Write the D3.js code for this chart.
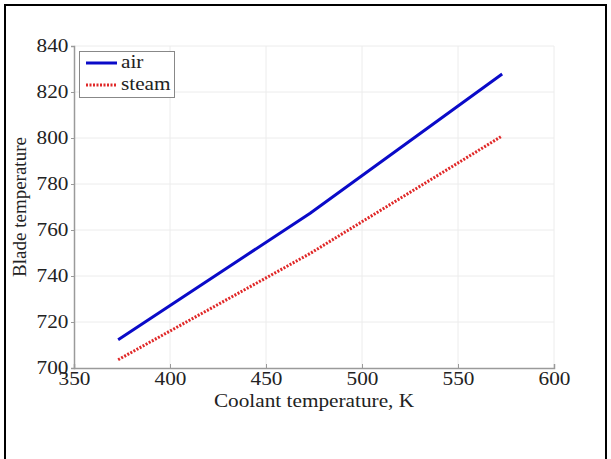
<!DOCTYPE html>
<html><head><meta charset="utf-8">
<script src="https://cdn.jsdelivr.net/npm/d3@7"></script>
<style>body{margin:0;background:#fff}svg{display:block}</style>
</head><body>
<script>
const coolantTemps = [373, 473, 573];
const airValues = [712.3, 767.3, 827.8];
const steamValues = [703.6, 749.8, 800.9];
const seriesNames = ["air", "steam"];
const xTicks = [350, 400, 450, 500, 550, 600];
const yTicks = [700, 720, 740, 760, 780, 800, 820, 840];

const W = 611, H = 459;
const m = {left: 74, right: 57, top: 46, bottom: 91};
const SX = 1.12; // horizontal stretch of text seen in the reference
const svg = d3.select("body").append("svg").attr("width", W).attr("height", H);
svg.append("rect").attr("width", W).attr("height", H).attr("fill", "#fff");
// outer frame
svg.append("path").attr("d", `M5,${H} L5,5 L606,5 L606,${H}`).attr("fill", "none")
  .attr("stroke", "#000").attr("stroke-width", 2);

const x = d3.scaleLinear().domain([350, 600]).range([m.left, W - m.right]);
const y = d3.scaleLinear().domain([700, 840]).range([H - m.bottom, m.top]);
const font = "'Liberation Serif','Times New Roman',serif";

// grid
const g = svg.append("g");
g.selectAll(".gx").data(xTicks.slice(1)).enter().append("line")
  .attr("x1", d => x(d)).attr("x2", d => x(d)).attr("y1", y(700)).attr("y2", y(840))
  .attr("stroke", "#ececec").attr("stroke-width", 1);
g.selectAll(".gy").data(yTicks.slice(1)).enter().append("line")
  .attr("y1", d => y(d)).attr("y2", d => y(d)).attr("x1", x(350)).attr("x2", x(600))
  .attr("stroke", "#ececec").attr("stroke-width", 1);

// axes
const xAxis = svg.append("g").attr("transform", `translate(0,${y(700)})`)
  .call(d3.axisBottom(x).tickValues(xTicks).tickSize(-4).tickPadding(8).tickFormat(d3.format("d")));
const yAxis = svg.append("g").attr("transform", `translate(${x(350)},0)`)
  .call(d3.axisLeft(y).tickValues(yTicks).tickSize(3).tickPadding(2).tickFormat(d3.format("d")));
[xAxis, yAxis].forEach(a => {
  a.select(".domain").attr("stroke", "#9a9a9a").attr("stroke-width", 1.5);
  a.selectAll(".tick line").attr("stroke", "#9a9a9a");
  a.selectAll("text").attr("fill", "#222").style("font-family", font).style("font-size", "19px")
    .attr("transform", `scale(${SX},1)`);
});
xAxis.selectAll("text").attr("dy", "0.5em");
yAxis.selectAll("text").attr("dy", "0.3em");

// labels
svg.append("text").attr("transform", `translate(${(x(350) + x(600)) / 2},407) scale(${SX},1)`)
  .attr("text-anchor", "middle")
  .attr("fill", "#222").style("font-family", font).style("font-size", "19px").text("Coolant temperature, K");
svg.append("text").attr("transform", `translate(26,${(y(700) + y(840)) / 2}) rotate(-90)`)
  .attr("text-anchor", "middle").attr("fill", "#222").style("font-family", font).style("font-size", "19px")
  .text("Blade temperature");

// lines
const line = d3.line().x(d => x(d[0])).y(d => y(d[1]));
const airData = coolantTemps.map((t, i) => [t, airValues[i]]);
const steamData = coolantTemps.map((t, i) => [t, steamValues[i]]);
svg.append("path").datum(airData).attr("d", line).attr("fill", "none")
  .attr("stroke", "#0a0ac8").attr("stroke-width", 3);
svg.append("path").datum(steamData).attr("d", line).attr("fill", "none")
  .attr("stroke", "#e02828").attr("stroke-width", 3).attr("stroke-dasharray", "2,1.5");

// legend
const lg = svg.append("g");
lg.append("rect").attr("x", 79.5).attr("y", 51.5).attr("width", 95).attr("height", 46)
  .attr("fill", "#fff").attr("stroke", "#888").attr("stroke-width", 1);
const styles = [{c: "#0a0ac8", d: null}, {c: "#e02828", d: "2,1.5"}];
seriesNames.forEach((n, i) => {
  const yy = 63 + i * 22;
  lg.append("line").attr("x1", 86).attr("x2", 117).attr("y1", yy).attr("y2", yy)
    .attr("stroke", styles[i].c).attr("stroke-width", 3).attr("stroke-dasharray", styles[i].d);
  lg.append("text").attr("transform", `translate(121,${yy + 5}) scale(${SX},1)`).attr("fill", "#222")
    .style("font-family", font).style("font-size", "19px").text(n);
});
</script>
</body></html>
